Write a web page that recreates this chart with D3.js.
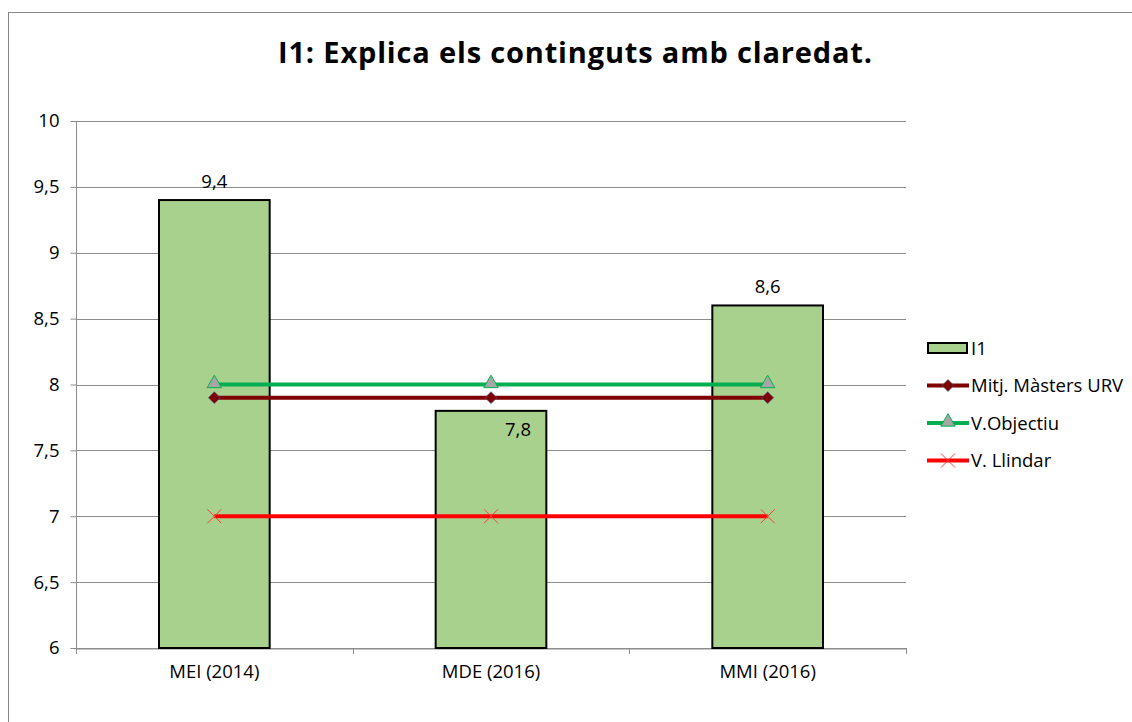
<!DOCTYPE html>
<html>
<head>
<meta charset="utf-8">
<script src="https://cdn.jsdelivr.net/npm/d3@7"></script>
<style>
  body { margin: 0; background: #fff; }
  text { font-family: "Open Sans", "Liberation Sans", sans-serif; fill: #000; }
</style>
</head>
<body>
<div id="chart"></div>
<script>
// data
var categories = ["MEI (2014)", "MDE (2016)", "MMI (2016)"];
var valuesI1 = [9.4, 7.8, 8.6];
var valuesMitj = [7.9, 7.9, 7.9];
var valuesObjectiu = [8, 8, 8];
var valuesLlindar = [7, 7, 7];
var yTicks = [6, 6.5, 7, 7.5, 8, 8.5, 9, 9.5, 10];
var seriesNames = ["I1", "Mitj. Màsters URV", "V.Objectiu", "V. Llindar"];

var W = 1132, H = 722;
var margin = { top: 121, right: 226, bottom: 74, left: 76 },
  width = W - margin.left - margin.right,
  height = H - margin.top - margin.bottom;

var root = d3.select("#chart").append("svg")
  .attr("width", W)
  .attr("height", H);

// outer chart border
root.append("rect")
  .attr("x", 8.5).attr("y", 12.5)
  .attr("width", 1140).attr("height", 740)
  .attr("fill", "none")
  .attr("stroke", "#868686")
  .attr("stroke-width", 1);

root.append("text")
  .attr("x", 575).attr("y", 63)
  .attr("text-anchor", "middle")
  .style("font-size", "29px")
  .style("font-weight", "bold")
  .attr("textLength", 594)
  .text("I1: Explica els continguts amb claredat.");

var svg = root.append("g")
  .attr("transform", "translate(" + margin.left + "," + margin.top + ")");

var x = d3.scaleBand()
  .domain(categories)
  .range([0, width]);

var y = d3.scaleLinear()
  .domain([6, 10])
  .range([height, 0]);

// gridlines
svg.append("g")
  .selectAll("line")
  .data(yTicks)
  .enter().append("line")
  .attr("x1", 0).attr("x2", width)
  .attr("y1", function (d) { return Math.round(y(d)) + 0.5; })
  .attr("y2", function (d) { return Math.round(y(d)) + 0.5; })
  .attr("stroke", "#8c8c8c")
  .attr("stroke-width", 1);

// y axis
var yAxis = svg.append("g")
  .attr("transform", "translate(0.5,0)")
  .call(d3.axisLeft(y).tickValues(yTicks).tickSize(6).tickPadding(11)
    .tickFormat(function (d) { return String(d).replace(".", ","); }));
yAxis.select(".domain").attr("stroke", "#8c8c8c").attr("d", "M0,0V" + (height + 6));
yAxis.selectAll(".tick line").attr("stroke", "#8c8c8c");
yAxis.selectAll("text").style("font-size", "18.5px").style("font-family", "\"Open Sans\", sans-serif");

// x axis
var xAxis = svg.append("g")
  .attr("transform", "translate(0," + (Math.round(height) + 0.5) + ")")
  .call(d3.axisBottom(x).tickSize(0).tickPadding(16));
xAxis.select(".domain").attr("stroke", "#8c8c8c");
xAxis.selectAll("text").style("font-size", "18.5px").style("font-family", "\"Open Sans\", sans-serif");
// category separators
svg.append("g")
  .selectAll("line")
  .data(categories)
  .enter().append("line")
  .attr("x1", function (d) { return Math.round(x(d) + x.bandwidth()) + 0.5; })
  .attr("x2", function (d) { return Math.round(x(d) + x.bandwidth()) + 0.5; })
  .attr("y1", height).attr("y2", height + 6)
  .attr("stroke", "#8c8c8c");

// bars
var barW = x.bandwidth() * 0.4;
svg.append("g")
  .selectAll("rect")
  .data(valuesI1)
  .enter().append("rect")
  .attr("x", function (d, i) { return x(categories[i]) + (x.bandwidth() - barW) / 2; })
  .attr("y", function (d) { return y(d); })
  .attr("width", barW)
  .attr("height", function (d) { return height - y(d); })
  .attr("fill", "#a9d18e")
  .attr("stroke", "#000")
  .attr("stroke-width", 2);

// bar labels
svg.append("g")
  .selectAll("text")
  .data(valuesI1)
  .enter().append("text")
  .attr("x", function (d, i) {
    var cx = x(categories[i]) + x.bandwidth() / 2;
    return i === 1 ? cx + 27 : cx;
  })
  .attr("y", function (d, i) { return i === 1 ? y(d) + 25 : y(d) - 12; })
  .attr("text-anchor", "middle")
  .style("font-size", "18.5px")
  .text(function (d) { return String(d).replace(".", ","); });

var cx = function (d, i) { return x(categories[i]) + x.bandwidth() / 2; };
var line = d3.line().x(cx).y(function (d) { return y(d); });

// series lines
var lines = [
  { vals: valuesObjectiu, color: "#00b050" },
  { vals: valuesMitj, color: "#7f0000" },
  { vals: valuesLlindar, color: "#ff0000" }
];
lines.forEach(function (s) {
  svg.append("path")
    .datum(s.vals)
    .attr("d", line)
    .attr("fill", "none")
    .attr("stroke", s.color)
    .attr("stroke-width", 4);
});

// markers
var diamond = d3.symbol().type(d3.symbolDiamond2).size(90);
var triangle = d3.symbol().type(d3.symbolTriangle).size(90);
svg.append("g").selectAll("path")
  .data(valuesMitj).enter().append("path")
  .attr("d", diamond)
  .attr("transform", function (d, i) { return "translate(" + cx(d, i) + "," + y(d) + ")"; })
  .attr("fill", "#7f0000").attr("stroke", "#4a5a9a").attr("stroke-width", 0.7);
svg.append("g").selectAll("path")
  .data(valuesObjectiu).enter().append("path")
  .attr("d", triangle)
  .attr("transform", function (d, i) { return "translate(" + cx(d, i) + "," + (y(d) - 1) + ")"; })
  .attr("fill", "#a6a6a6").attr("stroke", "#00b050").attr("stroke-width", 1);
svg.append("g").selectAll("path")
  .data(valuesLlindar).enter().append("path")
  .attr("d", "M-7,-7L7,7M-7,7L7,-7")
  .attr("transform", function (d, i) { return "translate(" + cx(d, i) + "," + y(d) + ")"; })
  .attr("fill", "none").attr("stroke", "#ff3b3b").attr("stroke-width", 1);

// legend
var legend = root.append("g").attr("transform", "translate(927,348)");
var rowH = 37.5;
seriesNames.forEach(function (name, i) {
  var g = legend.append("g").attr("transform", "translate(0," + (i * rowH) + ")");
  if (i === 0) {
  g.append("rect").attr("x", 1).attr("y", -5).attr("width", 39).attr("height", 10)
      .attr("fill", "#a9d18e").attr("stroke", "#000").attr("stroke-width", 2);
  } else {
    var col = ["#7f0000", "#00b050", "#ff0000"][i - 1];
    g.append("line").attr("x1", 0).attr("x2", 42).attr("y1", 0).attr("y2", 0)
      .attr("stroke", col).attr("stroke-width", 4);
    if (i === 1) {
      g.append("path").attr("d", diamond).attr("transform", "translate(21,0)")
        .attr("fill", "#7f0000").attr("stroke", "#4a5a9a").attr("stroke-width", 0.7);
    } else if (i === 2) {
      g.append("path").attr("d", triangle).attr("transform", "translate(21,-1)")
        .attr("fill", "#a6a6a6").attr("stroke", "#00b050").attr("stroke-width", 1);
    } else {
      g.append("path").attr("d", "M-7,-7L7,7M-7,7L7,-7").attr("transform", "translate(21,0)")
        .attr("fill", "none").attr("stroke", "#ff3b3b").attr("stroke-width", 1);
    }
  }
  g.append("text").attr("x", 44).attr("y", 6.5)
    .style("font-size", "18.5px")
    .text(name);
});
</script>
</body>
</html>
